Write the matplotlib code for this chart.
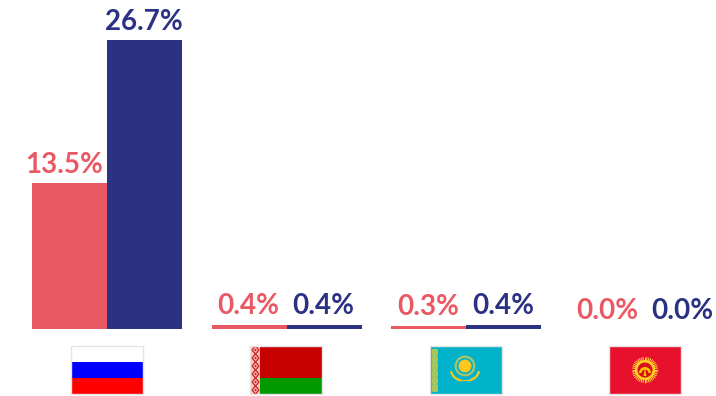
import matplotlib
matplotlib.use("Agg")
import numpy as np
import matplotlib.pyplot as plt
from matplotlib.patches import Rectangle, Circle, Polygon, Arc, Wedge

plt.rcParams['font.family'] = ['Lato', 'DejaVu Sans']

W, H = 716, 396

# Share of each country, two periods
countries = ["Russia", "Belarus", "Kazakhstan", "Kyrgyzstan"]
first_vals = [13.5, 0.4, 0.3, 0.0]
second_vals = [26.7, 0.4, 0.4, 0.0]

PINK = "#EA5963"
NAVY = "#2B3183"

# plot scale in figure pixels
BASE_Y = 329.3
PX_PER_UNIT = 10.83
GROUP_X0 = 107
GROUP_STEP = 179.5
BAR_W = 75

fig = plt.figure(figsize=(W / 100, H / 100), dpi=100, facecolor="white")
ax = fig.add_axes([0, 0, 1, 1])
ax.set_xlim(-GROUP_X0 / GROUP_STEP, (W - GROUP_X0) / GROUP_STEP)
ax.set_ylim(-(H - BASE_Y) / PX_PER_UNIT, BASE_Y / PX_PER_UNIT)
ax.axis("off")

x = np.arange(len(countries))
bw = BAR_W / GROUP_STEP
ax.bar(x - bw / 2, first_vals, bw, color=PINK, linewidth=0)
ax.bar(x + bw / 2, second_vals, bw, color=NAVY, linewidth=0)

def value_labels(xs, vals, color):
    for xi, v in zip(xs, vals):
        # the tall left bar has its label pushed a little to the left
        shift = -3.6 if v == 13.5 else -0.5
        ax.annotate(f"{v:.1f}%", (xi, v), xytext=(shift, 7.6),
                    textcoords="offset points", ha="center", va="baseline",
                    color=color, fontsize=20, fontweight="bold")

value_labels(x - bw / 2, first_vals, PINK)
value_labels(x + bw / 2, second_vals, NAVY)

# ── flags, each in its own little axes (72x48 units) ──
def russia(a):
    a.add_patch(Rectangle((0, 16), 72, 16, color="#0000FF", lw=0))
    a.add_patch(Rectangle((0, 32), 72, 16, color="#FF0000", lw=0))

def belarus(a):
    a.add_patch(Rectangle((10, 0), 62, 32, color="#C80000", lw=0))
    a.add_patch(Rectangle((10, 32), 62, 16, color="#009A00", lw=0))
    a.add_patch(Rectangle((1, 0), 9, 48, color="#F6C4C4", lw=0))
    for cy in np.arange(4, 48, 8):
        a.add_patch(Polygon([(5.5, cy - 4), (9, cy), (5.5, cy + 4), (2, cy)],
                            closed=True, fc="none", ec="#D21C1C", lw=0.9))
        a.add_patch(Circle((5.5, cy), 1.1, color="#D21C1C", lw=0))

def kazakhstan(a):
    a.add_patch(Rectangle((0, 0), 72, 48, color="#00B2CA", lw=0))
    gold = "#F7C81E"
    a.add_patch(Rectangle((2.5, 2.5), 5.5, 43, color="#8CC36C", lw=0))
    for cy in np.arange(6, 46, 7.2):
        a.add_patch(Polygon([(5.2, cy - 3), (7.4, cy), (5.2, cy + 3), (3, cy)],
                            closed=True, fc="none", ec="#D8C83A", lw=0.7))
    a.add_patch(Circle((35.5, 20), 9.3, fc="none", ec="#A9C46A", lw=1.6))
    a.add_patch(Circle((35.5, 20), 6.4, color="#FFC61E", lw=0))
    # wings below the sun
    a.add_patch(Arc((35.5, 24), 28, 22, theta1=5, theta2=70, color=gold, lw=1.6))
    a.add_patch(Arc((35.5, 24), 28, 22, theta1=110, theta2=175, color=gold, lw=1.6))
    a.add_patch(Rectangle((31, 34), 9, 1.4, color=gold, lw=0))

def kyrgyzstan(a):
    a.add_patch(Rectangle((0, 0), 72, 48, color="#E8112D", lw=0))
    ang = np.linspace(0, 2 * np.pi, 40, endpoint=False)
    for t in ang:
        a.plot([36 + 8 * np.cos(t), 36 + 13 * np.cos(t)],
               [24 + 8 * np.sin(t), 24 + 13 * np.sin(t)],
               color="#FFD83A", lw=0.7, solid_capstyle="butt")
    a.add_patch(Circle((36, 24), 10, color="#FFC400", lw=0))
    a.add_patch(Circle((36, 24), 7.5, color="#D8101F", lw=0))
    a.add_patch(Wedge((36, 27), 6, 180, 360, color="#FFC400", lw=0))
    a.add_patch(Wedge((36, 27), 3.4, 180, 360, color="#D8101F", lw=0))
    a.add_patch(Polygon([(34.6, 30), (36, 21), (37.4, 30)], color="#FFC400", lw=0))

flag_draw = [russia, belarus, kazakhstan, kyrgyzstan]
FLAG_W, FLAG_H, FLAG_TOP = 72, 48, 346
for i, draw in enumerate(flag_draw):
    cx = GROUP_X0 - 0.5 + i * GROUP_STEP
    fa = fig.add_axes([(cx - FLAG_W / 2) / W, 1 - (FLAG_TOP + FLAG_H) / H,
                       FLAG_W / W, FLAG_H / H])
    fa.set_xlim(0, 72)
    fa.set_ylim(48, 0)
    fa.axis("off")
    draw(fa)
    fa.add_patch(Rectangle((0, 0), 72, 48, fc="none", ec="#E4E4E4", lw=1.0,
                           clip_on=False))

fig.savefig("out.png", dpi=100)
